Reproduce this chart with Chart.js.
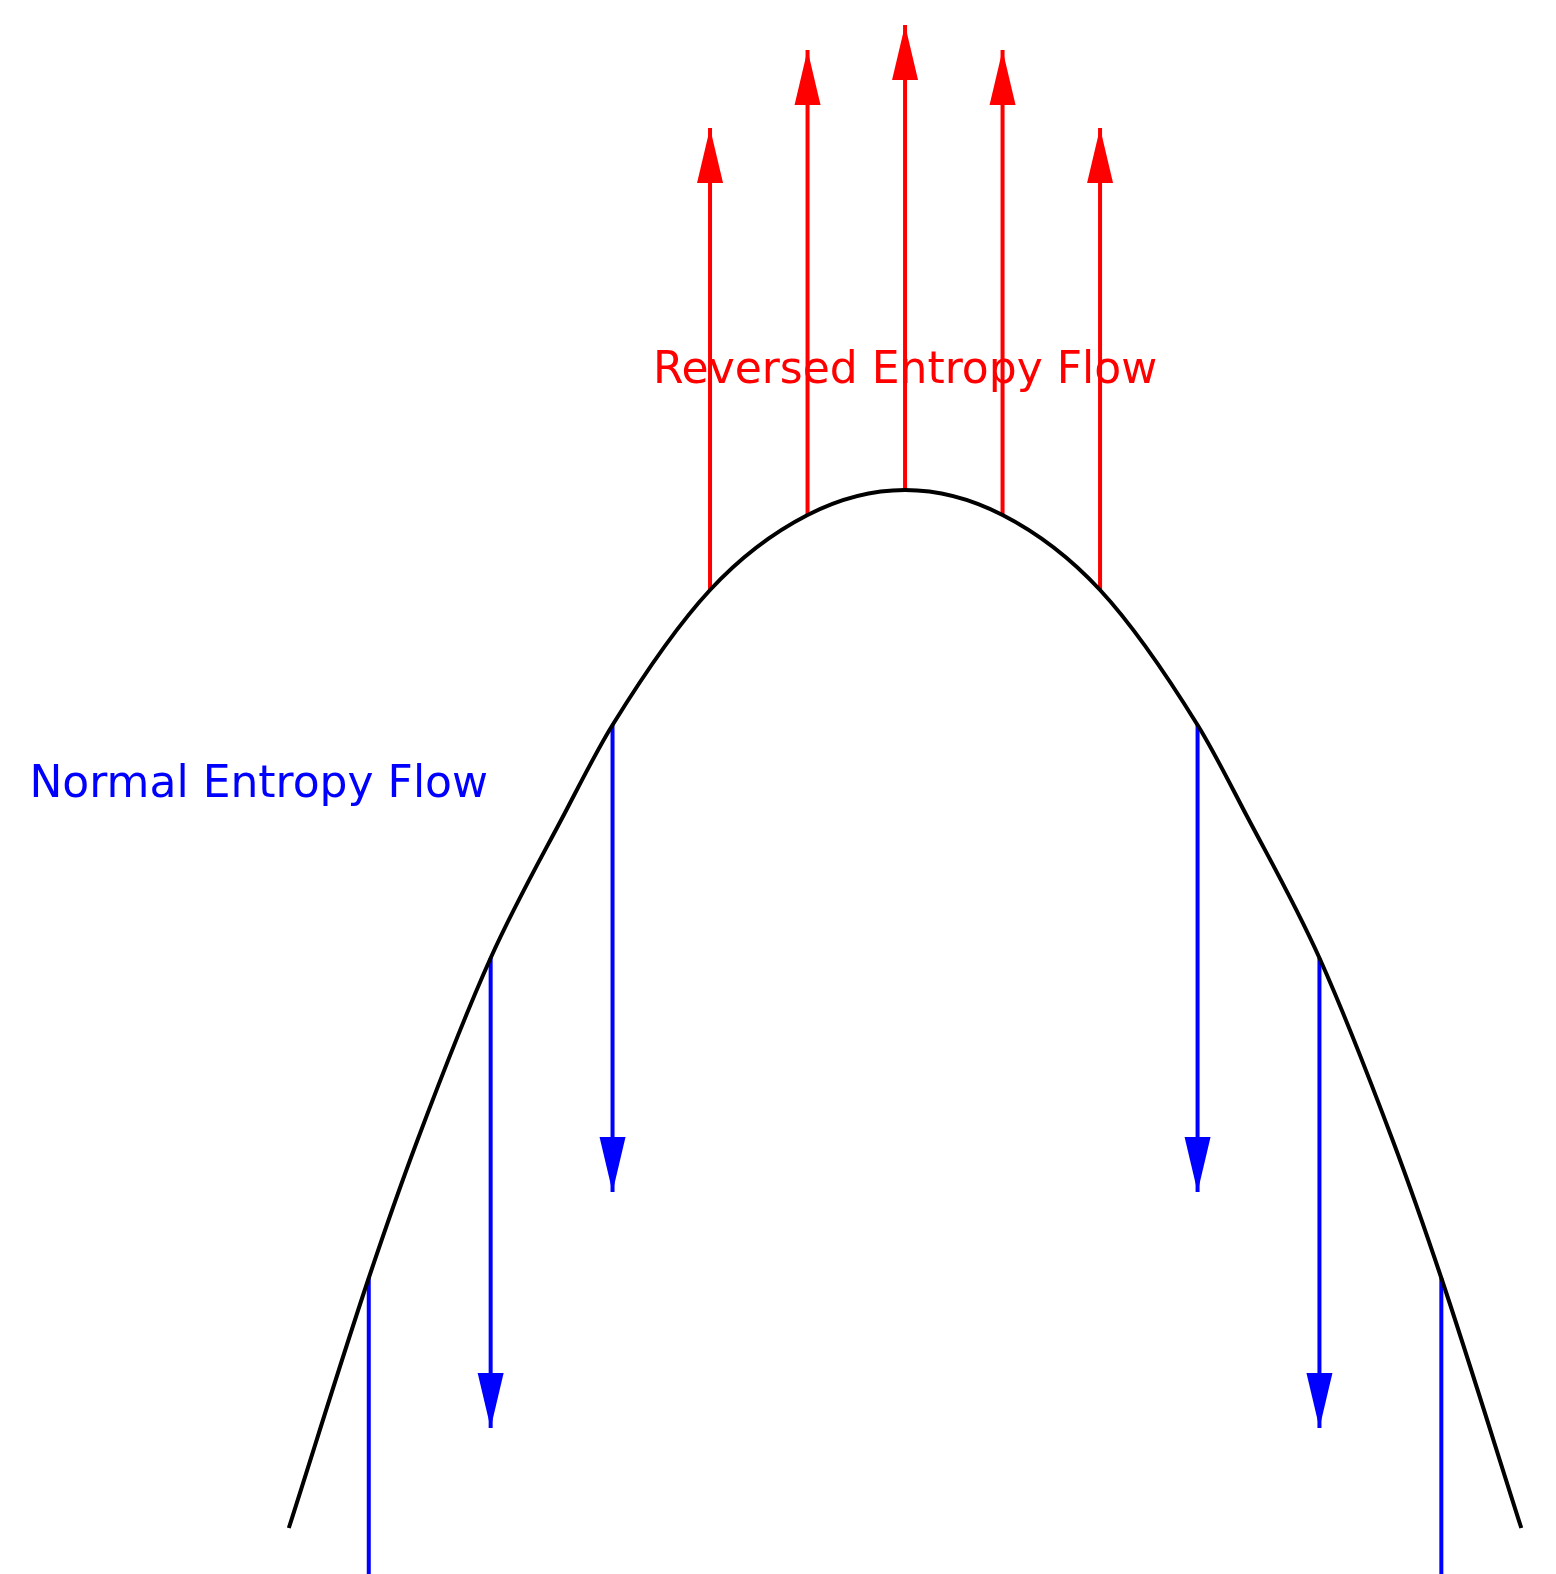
<!DOCTYPE html>
<html>
<head>
<meta charset="utf-8">
<script src="https://cdn.jsdelivr.net/npm/chart.js@4"></script>
<style>
  html, body { margin: 0; padding: 0; background: #fff; }
  #wrap { width: 1556px; height: 1574px; }
</style>
</head>
<body>
<div id="wrap"><canvas id="chart"></canvas></div>
<script>
// curve points (x: arbitrary units, y: height)
const curveX = [-3.16, -2.75, -2.5, -2.125, -1.75, -1.5, -1.0, -0.5, 0, 0.5, 1.0, 1.5, 1.75, 2.125, 2.5, 2.75, 3.16];
const curveY = [-10.38, -7.88, -6.5, -4.68, -3.25, -2.35, -1.0, -0.25, 0, -0.25, -1.0, -2.35, -3.25, -4.68, -6.5, -7.88, -10.38];

// red arrows: start on curve, point up
const redX = [-1.0, -0.5, 0, 0.5, 1.0];
const redStart = [-1.0, -0.25, 0, -0.25, -1.0];
const redEnd = [3.62, 4.4, 4.65, 4.4, 3.62];

// blue arrows: start on curve, point down
const blueX = [-2.75, -2.125, -1.5, 1.5, 2.125, 2.75];
const blueStart = [-7.88, -4.68, -2.35, -2.35, -4.68, -7.88];
const blueEnd = [-11.5, -9.38, -7.02, -7.02, -9.38, -11.5];

const labels = [
  { text: 'Reversed Entropy Flow', x: 0, y: 1.18, color: '#ff0000', align: 'center' },
  { text: 'Normal Entropy Flow', x: -4.49, y: -2.96, color: '#0000ff', align: 'left' }
];

const HEAD_LEN = 55, HEAD_W = 13;

function arrowSets(xs, starts, ends, color, dir) {
  return xs.map((x, i) => ({
    data: [{ x: x, y: starts[i] }, { x: x, y: ends[i] }],
    borderColor: color, borderWidth: 4, showLine: true, pointRadius: 0,
    arrowDir: dir, arrowColor: color
  }));
}

const arrowPlugin = {
  id: 'arrows',
  beforeDatasetsDraw(chart) {
    const ctx = chart.ctx, xs = chart.scales.x, ys = chart.scales.y;
    ctx.save();
    ctx.font = '44px "DejaVu Sans"';
    ctx.textBaseline = 'middle';
    labels.forEach(l => {
      ctx.fillStyle = l.color;
      ctx.textAlign = l.align;
      ctx.fillText(l.text, xs.getPixelForValue(l.x), ys.getPixelForValue(l.y));
    });
    ctx.restore();
  },
  afterDatasetsDraw(chart) {
    const ctx = chart.ctx, xs = chart.scales.x, ys = chart.scales.y;
    const area = chart.chartArea;
    ctx.save();
    ctx.beginPath();
    ctx.rect(area.left, area.top, area.right - area.left, 1528 - area.top);
    ctx.clip();
    chart.data.datasets.forEach(ds => {
      if (!ds.arrowDir) return;
      const px = xs.getPixelForValue(ds.data[1].x);
      const py = ys.getPixelForValue(ds.data[1].y);
      const base = py + ds.arrowDir * HEAD_LEN;
      ctx.fillStyle = ds.arrowColor;
      ctx.beginPath();
      ctx.moveTo(px, py);
      ctx.lineTo(px - HEAD_W, base);
      ctx.lineTo(px + HEAD_W, base);
      ctx.closePath();
      ctx.fill();
    });
    ctx.restore();
  }
};

new Chart(document.getElementById('chart'), {
  type: 'scatter',
  data: {
    datasets: [
      {
        data: curveX.map((x, i) => ({ x: x, y: curveY[i] })),
        borderColor: '#000', borderWidth: 4, showLine: true, pointRadius: 0,
        cubicInterpolationMode: 'monotone'
      },
      ...arrowSets(redX, redStart, redEnd, '#ff0000', 1),
      ...arrowSets(blueX, blueStart, blueEnd, '#0000ff', -1)
    ]
  },
  options: {
    responsive: true,
    maintainAspectRatio: false,
    animation: false,
    devicePixelRatio: 1,
    layout: { padding: 0 },
    clip: { left: 0, top: 0, right: 0, bottom: 46 },
    scales: {
      x: { type: 'linear', min: -4.641, max: 3.338, display: false },
      y: { type: 'linear', min: -10.84, max: 4.9, display: false }
    },
    plugins: { legend: { display: false }, tooltip: { enabled: false } }
  },
  plugins: [arrowPlugin]
});
</script>
</body>
</html>
